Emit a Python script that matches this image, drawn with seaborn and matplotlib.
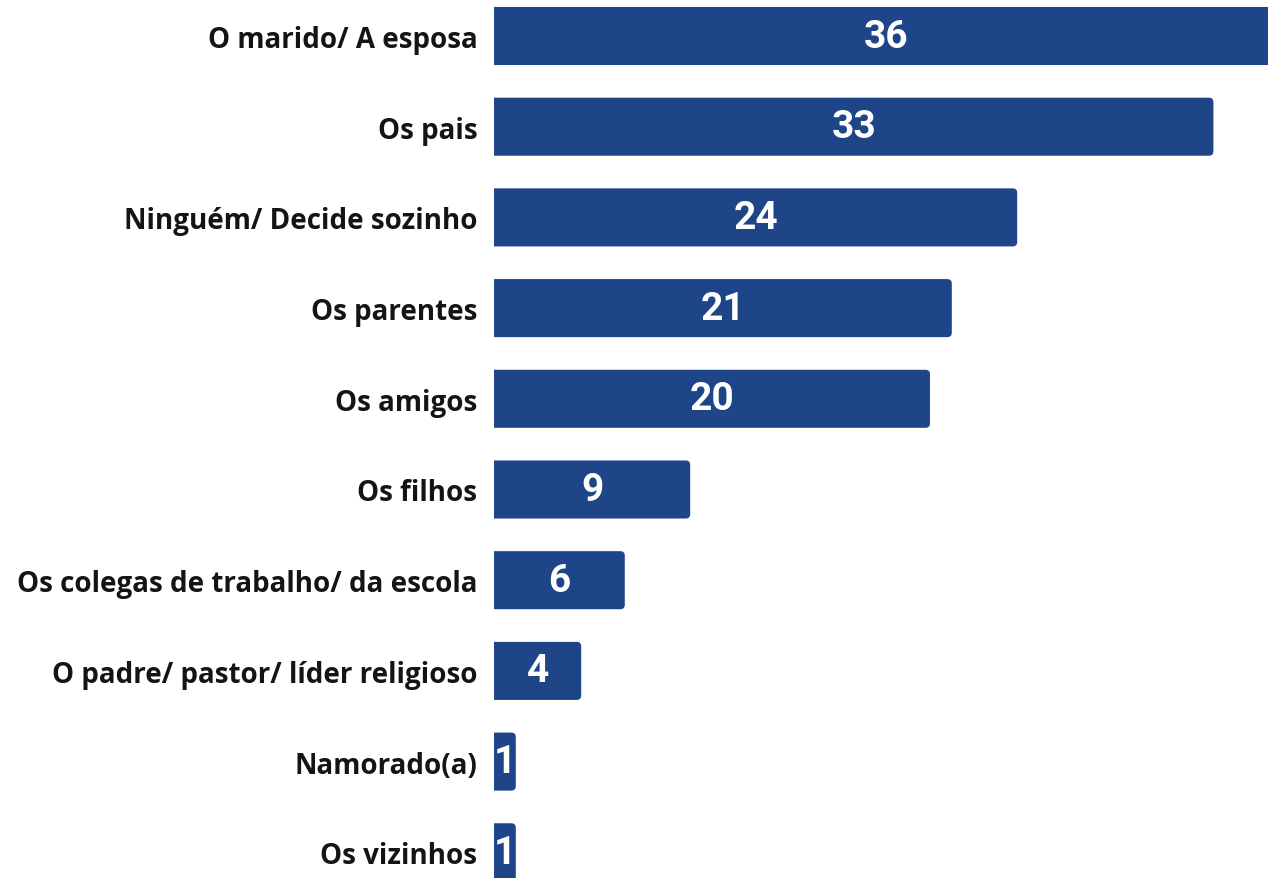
import matplotlib
matplotlib.use("Agg")
import matplotlib.pyplot as plt
from matplotlib.patches import FancyBboxPatch
import seaborn as sns
import pandas as pd

categories = [
    "O marido/ A esposa",
    "Os pais",
    "Ninguém/ Decide sozinho",
    "Os parentes",
    "Os amigos",
    "Os filhos",
    "Os colegas de trabalho/ da escola",
    "O padre/ pastor/ líder religioso",
    "Namorado(a)",
    "Os vizinhos",
]
values = [36, 33, 24, 21, 20, 9, 6, 4, 1, 1]

BAR_COLOR = "#1E4587"
TEXT_COLOR = "#141414"

df = pd.DataFrame({"categoria": categories, "valor": values})

sns.set_theme(style="white")
plt.rcParams["font.family"] = ["Open Sans", "DejaVu Sans"]

W, H = 1268, 879
fig = plt.figure(figsize=(W / 100, H / 100), dpi=100)
fig.patch.set_facecolor("white")

left_px = 494
ax = fig.add_axes([left_px / W, 0, 1 - left_px / W, 1])
ax.set_facecolor("none")

sns.barplot(data=df, x="valor", y="categoria", orient="h", color=BAR_COLOR,
            width=0.64, saturation=1, ax=ax)

# swap plain rectangles for bars with softly rounded ends
px_per_x = 21.8
px_per_y = 90.7
r_x = 4.5 / px_per_x
r_y = 4.5 / px_per_y
for p in list(ax.patches):
    x0, y0 = p.get_x(), p.get_y()
    w, h = p.get_width(), p.get_height()
    fb = FancyBboxPatch((x0 - 1.0, y0), w + 1.0, h,
                        boxstyle=f"round,pad=0,rounding_size={r_x}",
                        mutation_aspect=r_y / r_x,
                        facecolor=BAR_COLOR, edgecolor="none", zorder=2)
    ax.add_patch(fb)
    p.remove()

for i, v in enumerate(values):
    ax.text(v / 2, i, str(v), ha="center", va="center", color="white",
            fontsize=28, fontweight="bold", family=["Roboto", "DejaVu Sans"],
            zorder=3)

ax.set_xlim(0, (W - left_px) / px_per_x)
top = -37 / px_per_y
ax.set_ylim((H - 37) / px_per_y, top)

ax.set_xlabel("")
ax.set_ylabel("")
ax.set_xticks([])
ax.tick_params(axis="y", length=0, pad=12)
for lbl in ax.get_yticklabels():
    lbl.set_fontsize(20)
    lbl.set_fontweight("bold")
    lbl.set_color(TEXT_COLOR)
for s in ax.spines.values():
    s.set_visible(False)

fig.savefig("out.png", dpi=100, facecolor="white")
